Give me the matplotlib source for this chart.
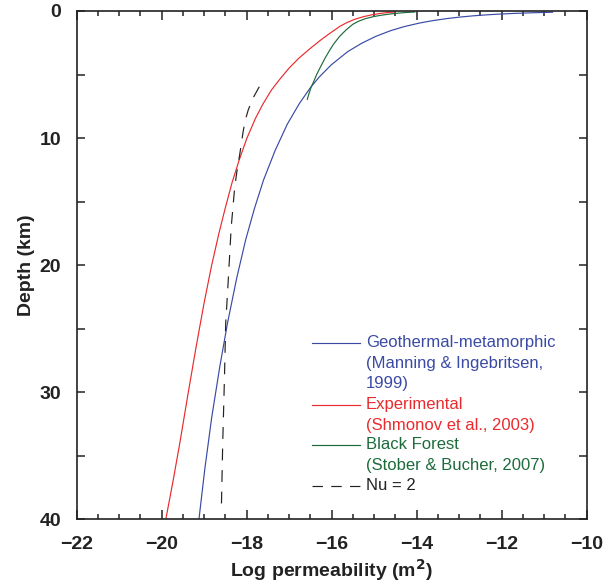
import numpy as np
import matplotlib
matplotlib.use("Agg")
import matplotlib.pyplot as plt
from matplotlib.ticker import MultipleLocator

plt.rcParams['font.family'] = ['Liberation Sans', 'DejaVu Sans']
plt.rcParams['lines.scale_dashes'] = False

# curves: depth (km) vs log permeability (m^2)
blue_depth = [0.10, 0.12, 0.15, 0.19, 0.24, 0.30, 0.38, 0.48, 0.6, 0.76, 0.95,
              1.23, 1.55, 2.0, 2.54, 3.2, 4.25, 5.2, 6.0, 7.3, 8.9, 11.0, 13.3,
              15.5, 18.0, 21.0, 24.6, 28.0, 32.0, 36.0, 40.0]
blue_logk = [-10.80, -11.05, -11.36, -11.69, -12.02, -12.33, -12.66, -12.98,
             -13.29, -13.62, -13.93, -14.29, -14.61, -14.96, -15.29, -15.62,
             -16.01, -16.29, -16.49, -16.76, -17.04, -17.33, -17.60, -17.81,
             -18.02, -18.23, -18.45, -18.63, -18.82, -18.98, -19.12]

red_depth = [0.08, 0.13, 0.2, 0.3, 0.45, 0.65, 0.9, 1.2, 1.76, 2.3, 3.0, 3.72,
             4.5, 5.3, 6.2, 7.3, 8.45, 10.0, 11.7, 13.5, 15.5, 17.5, 20.0, 23.0,
             26.5, 30.0, 34.0, 37.0, 40.0]
red_logk = [-14.51, -14.70, -14.87, -15.05, -15.25, -15.45, -15.63, -15.80,
            -16.04, -16.26, -16.52, -16.77, -17.00, -17.20, -17.41, -17.61,
            -17.79, -17.99, -18.17, -18.34, -18.50, -18.65, -18.82, -19.00,
            -19.19, -19.37, -19.57, -19.73, -19.90]

green_depth = [0.08, 0.12, 0.18, 0.26, 0.35, 0.45, 0.6, 0.8, 1.05, 1.5, 2.0, 2.6,
               3.07, 3.7, 4.4, 5.0, 5.56, 6.0, 6.5, 6.95]
green_logk = [-14.04, -14.25, -14.47, -14.67, -14.86, -15.02, -15.20, -15.36,
              -15.50, -15.66, -15.81, -15.95, -16.04, -16.15, -16.26, -16.35,
              -16.42, -16.48, -16.53, -16.57]

nu_depth = [5.96, 6.87, 7.79, 8.6, 9.5, 10.4, 11.3, 12.25, 13.2, 13.95, 17.0,
            21.2, 24.6, 29.0, 34.0, 38.9]
nu_logk = [-17.70, -17.85, -17.96, -18.03, -18.08, -18.12, -18.16, -18.21, -18.25,
           -18.28, -18.36, -18.43, -18.49, -18.52, -18.56, -18.59]

blue = '#3a4aa5'
red = '#ea2a2d'
green = '#1d6b3b'
black = '#222222'

fig = plt.figure(figsize=(6.15, 5.87), dpi=100)
ax = fig.add_axes([0.1244, 0.1150, 0.8293, 0.8663])

lw = 0.85
ax.plot(blue_logk, blue_depth, color=blue, lw=lw)
ax.plot(red_logk, red_depth, color=red, lw=lw)
ax.plot(green_logk, green_depth, color=green, lw=lw)
ax.plot(nu_logk, nu_depth, color=black, lw=lw, dashes=(8.5, 7))

ax.set_xlim(-22, -10)
ax.set_ylim(40, 0)
ax.xaxis.set_major_locator(MultipleLocator(2))
ax.xaxis.set_minor_locator(MultipleLocator(0.5))
ax.yaxis.set_major_locator(MultipleLocator(10))
ax.yaxis.set_minor_locator(MultipleLocator(5))

ax.tick_params(which='both', direction='in', top=True, right=True,
               width=1.1, color='#222222')
ax.tick_params(axis='x', which='major', length=6.5, pad=12)
ax.tick_params(axis='x', which='minor', length=3.5)
ax.tick_params(axis='y', which='both', length=5.5, pad=11)
for lab in ax.get_xticklabels() + ax.get_yticklabels():
    lab.set_fontsize(14)
    lab.set_fontweight('bold')
    lab.set_color('#222222')
for sp in ax.spines.values():
    sp.set_linewidth(1.2)
    sp.set_color('#222222')

ax.set_xlabel('Log permeability (m$^{\\mathbf{2}}$)', fontsize=14, fontweight='bold',
              color='#222222', labelpad=3)
ax.set_ylabel('Depth (km)', fontsize=14, fontweight='bold', color='#222222',
              labelpad=3)

# hand-built legend
entries = [
    (blue, 'solid', ['Geothermal-metamorphic', '(Manning & Ingebritsen,', '1999)']),
    (red, 'solid', ['Experimental', '(Shmonov et al., 2003)']),
    (green, 'solid', ['Black Forest', '(Stober & Bucher, 2007)']),
    (black, 'dashed', ['Nu = 2']),
]
line_y = [0.3471, 0.2252, 0.1465, 0.0659]
step = 0.0394
for (col, style, lines), y0 in zip(entries, line_y):
    if style == 'dashed':
        ax.plot([0.4618, 0.5559], [y0, y0], transform=ax.transAxes, color=col,
                lw=lw, dashes=(7.5, 6))
        tcol = black
    else:
        ax.plot([0.4618, 0.5559], [y0, y0], transform=ax.transAxes, color=col, lw=lw)
        tcol = col
    for i, t in enumerate(lines):
        ax.text(0.5676, y0 - i * step, t, transform=ax.transAxes, color=tcol,
                fontsize=12, va='center', ha='left')

fig.savefig('out.png', dpi=100)
